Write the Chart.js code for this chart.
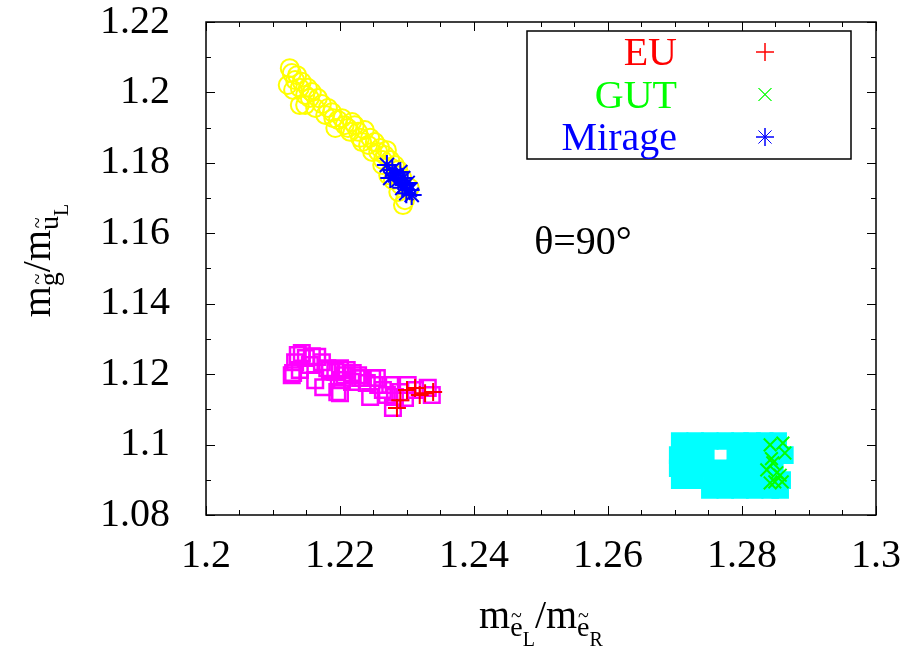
<!DOCTYPE html>
<html>
<head>
<meta charset="utf-8">
<script src="https://cdn.jsdelivr.net/npm/chart.js@4/dist/chart.umd.min.js"></script>
<style>
  html, body { margin: 0; padding: 0; background: #fff; }
  canvas { display: block; }
</style>
</head>
<body>
<canvas id="chart1" width="906" height="651"></canvas>
<script>
//Axis ranges and ticks
const xMin = 1.2, xMax = 1.3, xStep = 0.02, xMinor = 0.005;
const yMin = 1.08, yMax = 1.22, yStep = 0.02, yMinor = 0.01;

//Series [m_eL/m_eR, m_g/m_uL]
const euPoints = [[1.2300, 1.1155], [1.2327, 1.1146], [1.2339, 1.1149], [1.2285, 1.1104],
  [1.2312, 1.1161], [1.2290, 1.1126], [1.2319, 1.1141]];
const gutPoints = [[1.2842, 1.0999], [1.2861, 1.1004], [1.2864, 1.0976], [1.2846, 1.0948],
  [1.2837, 1.0928], [1.2857, 1.0913], [1.2849, 1.0894], [1.2842, 1.0891], [1.2860, 1.0894],
  [1.2852, 1.0920], [1.2844, 1.0960]];
const miragePoints = [[1.2270, 1.1794], [1.2278, 1.1780], [1.2282, 1.1765], [1.2290, 1.1774],
  [1.2287, 1.1751], [1.2294, 1.1757], [1.2297, 1.1737], [1.2301, 1.1743], [1.2304, 1.1723],
  [1.2307, 1.1709], [1.2299, 1.1714], [1.2293, 1.1729], [1.2275, 1.1757]];
const yellowPoints = [[1.2128, 1.2055], [1.2133, 1.2035], [1.2130, 1.2007], [1.2140, 1.2013],
  [1.2148, 1.1993], [1.2155, 1.1984], [1.2140, 1.1964], [1.2163, 1.1956], [1.2173, 1.1967],
  [1.2178, 1.1936], [1.2188, 1.1944], [1.2197, 1.1922], [1.2207, 1.1907], [1.2193, 1.1899],
  [1.2215, 1.1888], [1.2222, 1.1907], [1.2230, 1.1871], [1.2237, 1.1893], [1.2242, 1.1851],
  [1.2252, 1.1859], [1.2248, 1.1831], [1.2260, 1.1842], [1.2267, 1.1822], [1.2275, 1.1808],
  [1.2263, 1.1794], [1.2282, 1.1794], [1.2272, 1.1765], [1.2287, 1.1780], [1.2290, 1.1737],
  [1.2297, 1.1694], [1.2279, 1.1751], [1.2304, 1.1729],
  [1.2136, 1.2049], [1.2143, 1.2030], [1.2152, 1.2013], [1.2158, 1.2001], [1.2167, 1.1984],
  [1.2182, 1.1956], [1.2190, 1.1927], [1.2203, 1.1927], [1.2212, 1.1899], [1.2218, 1.1916],
  [1.2227, 1.1888], [1.2233, 1.1859], [1.2245, 1.1871], [1.2257, 1.1831], [1.2264, 1.1808],
  [1.2270, 1.1836], [1.2278, 1.1785], [1.2285, 1.1765], [1.2293, 1.1757], [1.2287, 1.1717],
  [1.2294, 1.1680], [1.2125, 1.2069], [1.2122, 1.2021], [1.2148, 1.1964]];
const magentaPoints = [[1.2143, 1.1260], [1.2130, 1.1203], [1.2175, 1.1163], [1.2196, 1.1149],
  [1.2203, 1.1183], [1.2219, 1.1203], [1.2240, 1.1175], [1.2245, 1.1135], [1.2264, 1.1155],
  [1.2279, 1.1104], [1.2282, 1.1135], [1.2301, 1.1169], [1.2331, 1.1161], [1.2337, 1.1141],
  [1.2166, 1.1249], [1.2185, 1.1212], [1.2210, 1.1212], [1.2255, 1.1189], [1.2133, 1.1234],
  [1.2155, 1.1226], [1.2230, 1.1189],
  [1.2137, 1.1254], [1.2149, 1.1246], [1.2158, 1.1251], [1.2173, 1.1234], [1.2181, 1.1217],
  [1.2193, 1.1206], [1.2200, 1.1217], [1.2207, 1.1197], [1.2218, 1.1178], [1.2227, 1.1197],
  [1.2234, 1.1189], [1.2248, 1.1189], [1.2257, 1.1169], [1.2270, 1.1141], [1.2290, 1.1149],
  [1.2297, 1.1132], [1.2312, 1.1155], [1.2275, 1.1169], [1.2128, 1.1197], [1.2140, 1.1212],
  [1.2163, 1.1183], [1.2200, 1.1146]];
const cyanPoints = [
  [1.2707, 1.1010], [1.2730, 1.1010], [1.2752, 1.1010], [1.2775, 1.1010], [1.2797, 1.1010], [1.2815, 1.1010], [1.2834, 1.1010], [1.2854, 1.1010],
  [1.2704, 1.0970], [1.2725, 1.0970], [1.2746, 1.0970], [1.2790, 1.0970], [1.2809, 1.0970], [1.2827, 1.0970], [1.2845, 1.0970], [1.2864, 1.0970],
  [1.2704, 1.0933], [1.2722, 1.0933], [1.2745, 1.0933], [1.2767, 1.0933], [1.2790, 1.0933], [1.2812, 1.0933], [1.2830, 1.0933], [1.2849, 1.0933],
  [1.2707, 1.0899], [1.2730, 1.0899], [1.2755, 1.0899], [1.2779, 1.0899], [1.2800, 1.0899], [1.2819, 1.0899], [1.2839, 1.0899], [1.2860, 1.0899],
  [1.2752, 1.0871], [1.2775, 1.0871], [1.2797, 1.0871], [1.2819, 1.0871], [1.2842, 1.0871], [1.2857, 1.0871]];

const thetaLabel = 'θ=90°';
const serif = '"Liberation Serif", "Times New Roman", Times, "DejaVu Serif", "Noto Serif", serif';

const toXY = arr => arr.map(p => ({x: p[0], y: p[1]}));

//Draws a row of text pieces (with sub/sub-sub scripts and tildes) centred on cx
function drawPieces(c, pieces, cx, y) {
    let total = 0;
    pieces.forEach(p => {
        c.font = p.size + 'px ' + serif;
        p.w = c.measureText(p.t).width;
        total += p.w;
    });
    let x = cx - total / 2;
    c.textAlign = 'left';
    c.textBaseline = 'alphabetic';
    pieces.forEach(p => {
        c.font = p.size + 'px ' + serif;
        c.fillText(p.t, x, y + p.dy);
        if (p.tilde) {
            c.font = Math.round(p.size * 0.7) + 'px ' + serif;
            c.textAlign = 'center';
            c.fillText('~', x + p.w / 2, y + p.dy - p.size * 0.5);
            c.textAlign = 'left';
        }
        x += p.w;
    });
}

const extras = {
    id: 'extras',
    afterDatasetsDraw(chart) {
        const c = chart.ctx;
        const a = chart.chartArea;
        const sx = chart.scales.x, sy = chart.scales.y;
        c.save();
        //ticks pointing inwards on all four sides
        c.strokeStyle = '#000';
        c.lineWidth = 1;
        c.beginPath();
        for (let i = 0; i <= Math.round((xMax - xMin) / xMinor); i++) {
            const v = xMin + i * xMinor;
            const px = Math.round(sx.getPixelForValue(v)) + 0.5;
            const len = i % Math.round(xStep / xMinor) === 0 ? 9 : 5;
            c.moveTo(px, a.bottom); c.lineTo(px, a.bottom - len);
            c.moveTo(px, a.top); c.lineTo(px, a.top + len);
        }
        for (let i = 0; i <= Math.round((yMax - yMin) / yMinor); i++) {
            const v = yMin + i * yMinor;
            const py = Math.round(sy.getPixelForValue(v)) + 0.5;
            const len = i % Math.round(yStep / yMinor) === 0 ? 9 : 5;
            c.moveTo(a.left, py); c.lineTo(a.left + len, py);
            c.moveTo(a.right, py); c.lineTo(a.right - len, py);
        }
        c.stroke();
        c.lineWidth = 1.5;
        c.strokeRect(a.left, a.top, a.right - a.left, a.bottom - a.top);

        //legend box
        c.fillStyle = '#fff';
        c.fillRect(527, 31, 324, 128);
        c.strokeRect(527, 31, 324, 128);
        const shown = chart.data.datasets.filter(d => d.label);
        shown.forEach((d, i) => {
            const cy = 52 + i * 42.5;
            c.font = '40px ' + serif;
            c.fillStyle = d.borderColor;
            c.textAlign = 'right';
            c.textBaseline = 'alphabetic';
            c.fillText(d.label, 677, cy + 13);
            c.strokeStyle = d.borderColor;
            c.lineWidth = 1;
            Chart.helpers.drawPoint(c, {pointStyle: d.pointStyle, radius: 9, borderWidth: 1}, 765, cy);
            c.stroke();
        });

        //annotation
        c.fillStyle = '#000';
        c.font = '40px ' + serif;
        c.textAlign = 'center';
        c.fillText(thetaLabel, 583, 254);

        //axis titles
        drawPieces(c, [
            {t: 'm', size: 40, dy: 0},
            {t: 'e', size: 28, dy: 8, tilde: true},
            {t: 'L', size: 20, dy: 18},
            {t: '/m', size: 40, dy: 0},
            {t: 'e', size: 28, dy: 8, tilde: true},
            {t: 'R', size: 20, dy: 18}
        ], (a.left + a.right) / 2, 628);
        c.translate(50, (a.top + a.bottom) / 2 - 8);
        c.rotate(-Math.PI / 2);
        drawPieces(c, [
            {t: 'm', size: 40, dy: 0},
            {t: 'g', size: 28, dy: 8, tilde: true},
            {t: '/m', size: 40, dy: 0},
            {t: 'u', size: 28, dy: 8, tilde: true},
            {t: 'L', size: 20, dy: 18}
        ], 0, 0);
        c.restore();
    }
};

const tickFont = {family: serif, size: 40, lineHeight: 1};

const myChart1 = new Chart(document.querySelector('#chart1'), {
    type: 'scatter',
    data: {
        datasets: [{
            label: 'EU',
            data: toXY(euPoints),
            pointStyle: 'cross',
            pointRadius: 9,
            borderWidth: 2,
            borderColor: '#ff0000',
            backgroundColor: '#ff0000'
        }, {
            label: 'GUT',
            data: toXY(gutPoints),
            pointStyle: 'crossRot',
            pointRadius: 9,
            borderWidth: 2,
            borderColor: '#00ff00',
            backgroundColor: '#00ff00'
        }, {
            label: 'Mirage',
            data: toXY(miragePoints),
            pointStyle: 'star',
            pointRadius: 10,
            borderWidth: 2,
            borderColor: '#0000ff',
            backgroundColor: '#0000ff'
        }, {
            label: '',
            data: toXY(yellowPoints),
            pointStyle: 'circle',
            pointRadius: 9,
            borderWidth: 2,
            borderColor: '#ffff00',
            backgroundColor: 'rgba(0,0,0,0)'
        }, {
            label: '',
            data: toXY(magentaPoints),
            pointStyle: 'rect',
            pointRadius: 11,
            borderWidth: 2.5,
            borderColor: '#ff00ff',
            backgroundColor: 'rgba(0,0,0,0)'
        }, {
            label: '',
            data: toXY(cyanPoints),
            pointStyle: 'rect',
            pointRadius: 11,
            borderWidth: 2,
            borderColor: '#00ffff',
            backgroundColor: '#00ffff'
        }]
    },
    options: {
        responsive: false,
        animation: false,
        devicePixelRatio: 1,
        layout: {padding: {left: 0, top: 22, right: 30, bottom: 0}},
        scales: {
            x: {
                type: 'linear',
                min: xMin,
                max: xMax,
                grid: {display: false},
                border: {display: false},
                ticks: {
                    stepSize: xStep,
                    maxRotation: 0,
                    autoSkip: false,
                    padding: 13,
                    color: '#000',
                    font: tickFont,
                    callback: v => String(+v.toFixed(2))
                },
                afterFit: s => { s.height = 136; s.paddingLeft = 0; s.paddingRight = 0; }
            },
            y: {
                type: 'linear',
                min: yMin,
                max: yMax,
                grid: {display: false},
                border: {display: false},
                ticks: {
                    stepSize: yStep,
                    autoSkip: false,
                    padding: 28,
                    color: '#000',
                    font: tickFont,
                    callback: v => String(+v.toFixed(2))
                },
                afterFit: s => { s.width = 206; s.paddingTop = 0; s.paddingBottom = 0; }
            }
        },
        plugins: {
            legend: {display: false},
            tooltip: {enabled: false}
        }
    },
    plugins: [extras]
});
</script>
</body>
</html>
